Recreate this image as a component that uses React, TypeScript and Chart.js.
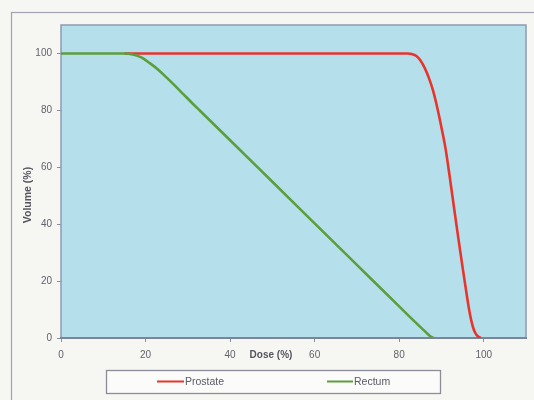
import React, { useEffect, useRef } from "react";
import { Chart, registerables } from "chart.js";

Chart.register(...registerables);

// ---- data ----
const seriesLabels = ["Prostate", "Rectum"];
const prostateDose = [15, 30, 50, 70, 82, 83, 84, 85, 86, 87, 88, 89, 90, 91, 92, 93, 94, 95, 96, 96.5, 97, 97.5, 98, 98.6, 99.3];
const prostateVolume = [100, 100, 100, 100, 100, 99.8, 99.2, 97.6, 95, 91.5, 87, 81, 74, 66.3, 56.2, 45.5, 35, 24.8, 15, 10.4, 6.5, 3.6, 1.8, 0.6, 0];
const rectumDose = [0, 15, 17, 19, 21, 23, 25, 27, 29, 31, 33, 40, 50, 60, 70, 80, 84, 86, 87.2, 88.2];
const rectumVolume = [100, 100, 99.6, 98.6, 96.6, 94.3, 91.5, 88.6, 85.6, 82.6, 79.7, 69.5, 54.9, 40.3, 25.7, 11.1, 5.3, 2.5, 0.8, 0];
const xTicks = [0, 20, 40, 60, 80, 100];
const yTicks = [0, 20, 40, 60, 80, 100];
const xTitle = "Dose (%)";
const yTitle = "Volume (%)";

const seriesColors = ["#e9342c", "#5c9e3c"];

const decorPlugin = {
  id: "decor",
  beforeDraw(chart: any) {
    const { ctx, chartArea: a, width, height } = chart;
    ctx.save();
    ctx.fillStyle = "#f6f6f3";
    ctx.fillRect(0, 0, width, height);
    ctx.strokeStyle = "#a2a2b0";
    ctx.lineWidth = 1.2;
    ctx.strokeRect(11.5, 12.5, width + 20, height + 20);
    ctx.fillStyle = "#b6dfec";
    ctx.fillRect(a.left, a.top, a.right - a.left, a.bottom - a.top);
    ctx.restore();
  },
  beforeDatasetsDraw(chart: any) {
    const { ctx, chartArea: a } = chart;
    ctx.save();
    ctx.strokeStyle = "#9099b2";
    ctx.lineWidth = 1.5;
    ctx.strokeRect(a.left, a.top, a.right - a.left, a.bottom - a.top);
    ctx.strokeStyle = "#7c8598";
    ctx.lineWidth = 2.2;
    ctx.beginPath();
    ctx.moveTo(a.left - 1, a.bottom);
    ctx.lineTo(a.right + 1, a.bottom);
    ctx.stroke();
    ctx.restore();
  },
  afterDraw(chart: any) {
    const { ctx } = chart;
    ctx.save();
    // axis titles
    ctx.fillStyle = "#55555f";
    ctx.font = "bold 10px 'Liberation Sans', Arial, sans-serif";
    ctx.textAlign = "center";
    ctx.textBaseline = "middle";
    ctx.fillText(xTitle, 271, 355);
    ctx.translate(28, 195);
    ctx.rotate(-Math.PI / 2);
    ctx.font = "bold 10.5px 'Liberation Sans', Arial, sans-serif";
    ctx.fillText(yTitle, 0, 0);
    ctx.restore();

    // legend box
    ctx.save();
    ctx.fillStyle = "#fbfbfa";
    ctx.strokeStyle = "#8d8d99";
    ctx.lineWidth = 1.3;
    ctx.fillRect(106.5, 370.5, 334, 23);
    ctx.strokeRect(106.5, 370.5, 334, 23);
    const items = [
      { x0: 157, x1: 184, tx: 185 },
      { x0: 327, x1: 353, tx: 354 },
    ];
    ctx.font = "10.5px 'Liberation Sans', Arial, sans-serif";
    ctx.textBaseline = "middle";
    ctx.textAlign = "left";
    items.forEach((it, i) => {
      ctx.strokeStyle = seriesColors[i];
      ctx.lineWidth = 2;
      ctx.beginPath();
      ctx.moveTo(it.x0, 381.5);
      ctx.lineTo(it.x1, 381.5);
      ctx.stroke();
      ctx.fillStyle = "#5a5a66";
      ctx.fillText(seriesLabels[i], it.tx, 382);
    });
    ctx.restore();
  },
};

export default function App() {
  const ref = useRef<HTMLCanvasElement | null>(null);

  useEffect(() => {
    if (!ref.current) return;
    const toPts = (xs: number[], ys: number[]) => xs.map((x, i) => ({ x, y: ys[i] }));
    const tickFont = { family: "'Liberation Sans', Arial, sans-serif", size: 10 };
    const chart = new Chart(ref.current, {
      type: "scatter",
      data: {
        datasets: [
          {
            label: seriesLabels[0],
            data: toPts(prostateDose, prostateVolume),
            showLine: true,
            borderColor: seriesColors[0],
            borderWidth: 2.6,
            pointRadius: 0,
            cubicInterpolationMode: "monotone",
            order: 2,
          },
          {
            label: seriesLabels[1],
            data: toPts(rectumDose, rectumVolume),
            showLine: true,
            borderColor: seriesColors[1],
            borderWidth: 2.6,
            pointRadius: 0,
            cubicInterpolationMode: "monotone",
            order: 1,
          },
        ],
      },
      options: {
        animation: false,
        responsive: false,
        layout: { padding: { top: 25, right: 8, left: 0, bottom: 0 } },
        plugins: { legend: { display: false }, tooltip: { enabled: false } },
        scales: {
          x: {
            type: "linear",
            min: 0,
            max: 110,
            afterBuildTicks: (s: any) => {
              s.ticks = xTicks.map((v) => ({ value: v }));
            },
            afterFit: (s: any) => {
              s.height = 62;
            },
            border: { display: false },
            grid: { drawOnChartArea: false, drawTicks: true, tickLength: 4, color: "#8a8f9e" },
            ticks: { font: tickFont, color: "#62626c", padding: 7, maxRotation: 0 },
          },
          y: {
            type: "linear",
            min: 0,
            max: 110,
            afterBuildTicks: (s: any) => {
              s.ticks = yTicks.map((v) => ({ value: v }));
            },
            afterFit: (s: any) => {
              s.width = 61;
            },
            border: { display: false },
            grid: { drawOnChartArea: false, drawTicks: true, tickLength: 4, color: "#8a8f9e" },
            ticks: { font: tickFont, color: "#62626c", padding: 5 },
          },
        },
      },
      plugins: [decorPlugin],
    } as any);
    return () => chart.destroy();
  }, []);

  return (
    <div style={{ position: "fixed", left: 0, top: 0, width: 534, height: 400, background: "#f6f6f3" }}>
      <canvas ref={ref} width={534} height={400} style={{ width: 534, height: 400, display: "block" }} />
    </div>
  );
}
